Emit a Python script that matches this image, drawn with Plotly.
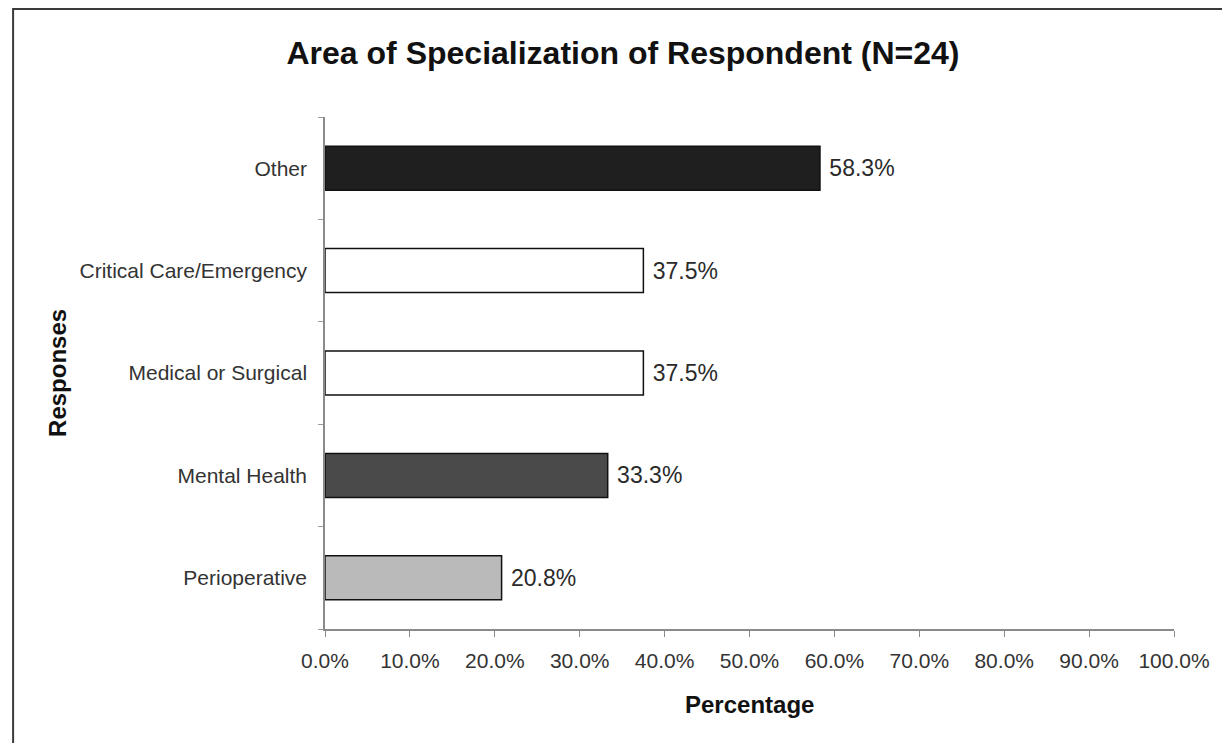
import plotly.graph_objects as go

categories = ["Perioperative", "Mental Health", "Medical or Surgical", "Critical Care/Emergency", "Other"]
values = [20.8, 33.3, 37.5, 37.5, 58.3]
bar_colors = ["#bababa", "#4a4a4a", "#ffffff", "#ffffff", "#1f1f1f"]
x_ticks = [0, 10, 20, 30, 40, 50, 60, 70, 80, 90, 100]
x_ticklabels = [f"{v:.1f}%" for v in x_ticks]

W, H = 1222, 743
L, R, T, B = 325, 1177, 117, 629

fig = go.Figure(go.Bar(
    y=categories, x=values, orientation="h",
    marker=dict(color=bar_colors, line=dict(color="#111111", width=1.5)),
    text=["\u00a0" + f"{v:.1f}%" for v in values], textposition="outside",
    textfont=dict(family="Liberation Sans, Arial", size=23, color="#2a2a2a"),
    cliponaxis=False, width=0.43,
))

def px(xp):
    return (xp - L) / (R - L)

def py(yp):
    return (B - yp) / (B - T)

fig.add_shape(type="rect", xref="paper", yref="paper",
              x0=px(12), x1=px(1260), y0=py(9), y1=py(780),
              line=dict(color="#3a3a3a", width=2), layer="below")

fig.add_annotation(text="<b>Percentage</b>", xref="paper", yref="paper",
                   x=px(751), y=py(704), showarrow=False,
                   xanchor="center", yanchor="middle",
                   font=dict(size=24, color="#111111"))
fig.add_annotation(text="<b>Responses</b>", xref="paper", yref="paper",
                   x=px(56), y=py(373), showarrow=False, textangle=-90,
                   xanchor="center", yanchor="middle",
                   font=dict(size=24, color="#111111"))

fig.update_layout(
    width=W, height=H,
    margin=dict(l=L, r=W - R, t=T, b=H - B),
    paper_bgcolor="white", plot_bgcolor="white",
    font=dict(family="Liberation Sans, Arial", color="#222222"),
    title=dict(text="<b>Area of Specialization of Respondent (N=24)</b>",
               x=623 / W, xanchor="center", y=1 - 53 / H, yanchor="middle",
               font=dict(size=32, color="#111111")),
    showlegend=False,
    bargap=0.57,
)
fig.update_xaxes(
    range=[0, 100], tickvals=x_ticks, ticktext=x_ticklabels,
    showgrid=False, zeroline=False,
    showline=True, linecolor="#8a8a8a", linewidth=1.5,
    ticks="outside", ticklen=6, tickcolor="#8a8a8a",
    tickfont=dict(size=21, color="#333333"),
    ticklabelstandoff=6,
)
fig.update_yaxes(
    categoryorder="array", categoryarray=categories,
    showgrid=False, zeroline=False,
    showline=True, linecolor="#8a8a8a", linewidth=1.5,
    ticks="outside", ticklen=5, tickcolor="#9a9a9a", tickson="boundaries",
    tickfont=dict(size=21, color="#333333"),
    ticklabelstandoff=12,
)

fig.write_html("out.html", config={"displayModeBar": False},
               post_script="document.body.style.margin='0';document.body.style.overflow='hidden';")
